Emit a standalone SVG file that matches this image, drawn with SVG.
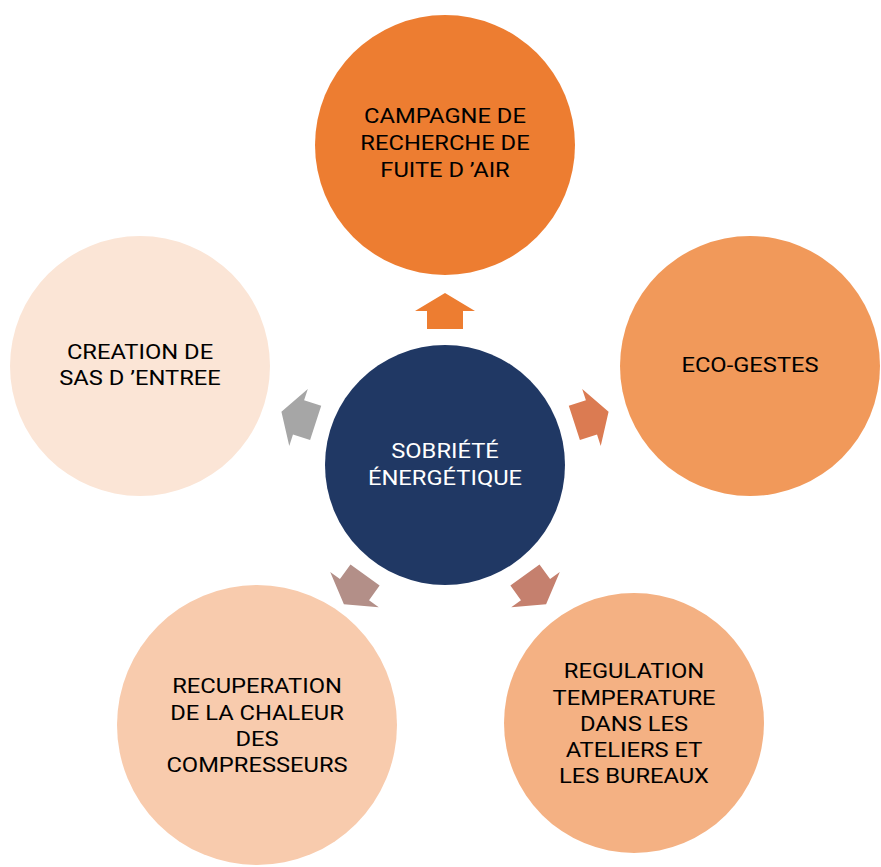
<svg xmlns="http://www.w3.org/2000/svg" xmlns:xlink="http://www.w3.org/1999/xlink" width="881" height="867" viewBox="0 0 881 867">
  <style>
    .lbl { font-family: Roboto, "Liberation Sans", Arial, sans-serif; font-size: 21px; text-anchor: middle; fill: #000000; }
    .lbl-w { fill: #FFFFFF; }
  </style>
  <defs>
    <polygon id="arrow" points="0,-172 30,-154 18,-154 18,-136 -18,-136 -18,-154 -30,-154"/>
  </defs>
  <rect width="881" height="867" fill="#FFFFFF"/>
  <g id="connectors">
    <use xlink:href="#arrow" href="#arrow" transform="translate(445 465)" fill="#ED7D31"/>
    <use xlink:href="#arrow" href="#arrow" transform="translate(445 465) rotate(72)" fill="#DB7B52"/>
    <use xlink:href="#arrow" href="#arrow" transform="translate(445 465) rotate(144)" fill="#C5806E"/>
    <use xlink:href="#arrow" href="#arrow" transform="translate(445 465) rotate(216)" fill="#B38F88"/>
    <use xlink:href="#arrow" href="#arrow" transform="translate(445 465) rotate(288)" fill="#A6A6A6"/>
  </g>
  <g id="node-center">
    <circle cx="445" cy="465" r="120" fill="#203864"/>
    <g transform="translate(445 0) scale(1.13 1)">
      <text class="lbl lbl-w" x="0" y="458">SOBRIÉTÉ</text>
      <text class="lbl lbl-w" x="0" y="485">ÉNERGÉTIQUE</text>
    </g>
  </g>
  <g id="node-campagne">
    <circle cx="445" cy="145" r="130" fill="#ED7D31"/>
    <g transform="translate(445 0) scale(1.13 1)">
      <text class="lbl" x="0" y="123">CAMPAGNE DE</text>
      <text class="lbl" x="0" y="150">RECHERCHE DE</text>
      <text class="lbl" x="0" y="177">FUITE D ’AIR</text>
    </g>
  </g>
  <g id="node-eco">
    <circle cx="750" cy="366" r="130" fill="#F1995A"/>
    <g transform="translate(750 0) scale(1.13 1)">
      <text class="lbl" x="0" y="372">ECO-GESTES</text>
    </g>
  </g>
  <g id="node-regulation">
    <circle cx="634" cy="723" r="130" fill="#F4B183"/>
    <g transform="translate(634 0) scale(1.13 1)">
      <text class="lbl" x="0" y="678">REGULATION</text>
      <text class="lbl" x="0" y="705">TEMPERATURE</text>
      <text class="lbl" x="0" y="731">DANS LES</text>
      <text class="lbl" x="0" y="757">ATELIERS ET</text>
      <text class="lbl" x="0" y="783">LES BUREAUX</text>
    </g>
  </g>
  <g id="node-recuperation">
    <circle cx="257" cy="725" r="140" fill="#F8CBAD"/>
    <g transform="translate(257 0) scale(1.13 1)">
      <text class="lbl" x="0" y="693">RECUPERATION</text>
      <text class="lbl" x="0" y="720">DE LA CHALEUR</text>
      <text class="lbl" x="0" y="746">DES</text>
      <text class="lbl" x="0" y="772">COMPRESSEURS</text>
    </g>
  </g>
  <g id="node-sas">
    <circle cx="140" cy="366" r="130" fill="#FBE5D6"/>
    <g transform="translate(140 0) scale(1.13 1)">
      <text class="lbl" x="0" y="359">CREATION DE</text>
      <text class="lbl" x="0" y="385">SAS D ’ENTREE</text>
    </g>
  </g>
</svg>
